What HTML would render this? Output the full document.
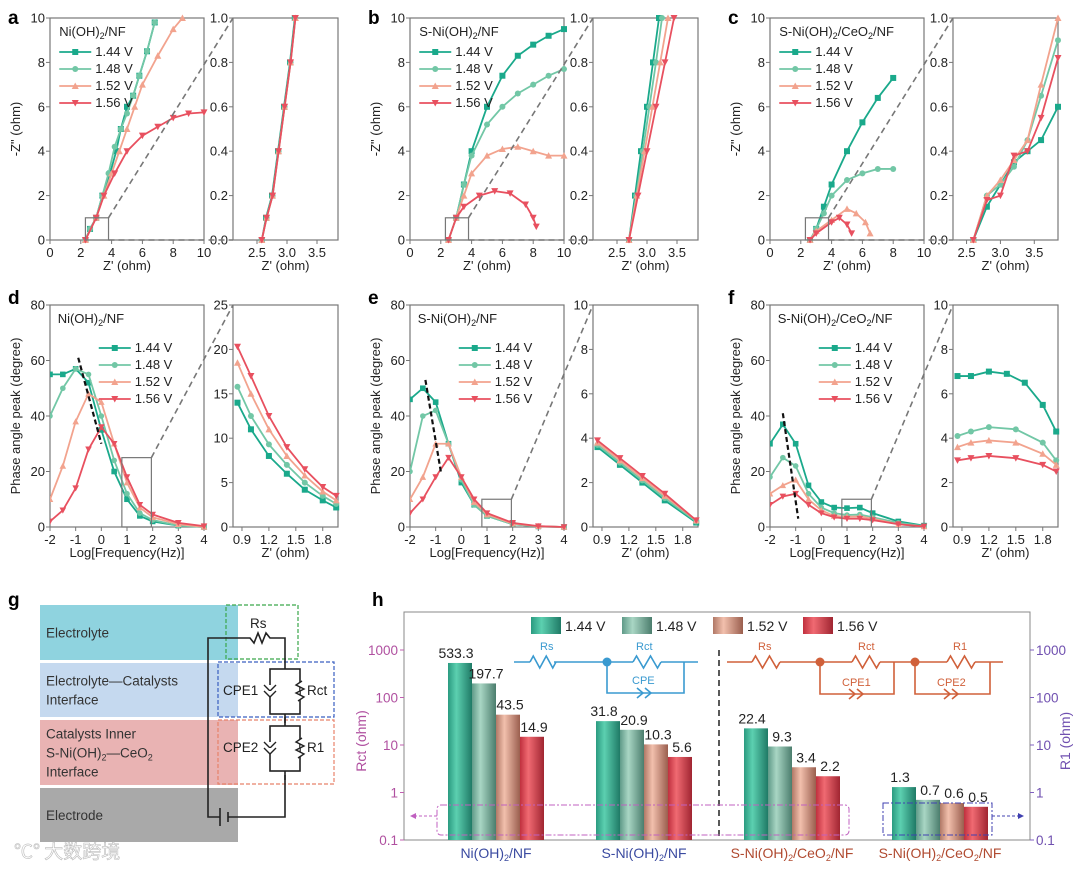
<!DOCTYPE html>
<html><head><meta charset="utf-8">
<style>
body{margin:0;background:#fff;}
svg{display:block;font-family:"Liberation Sans","Noto Sans CJK SC",sans-serif;}
</style></head>
<body>
<svg id="fig" width="1080" height="870" viewBox="0 0 1080 870">
<defs id="defs"></defs>
</svg>
<script>
// ---------- DATA ----------
const seriesNames = ["1.44 V","1.48 V","1.52 V","1.56 V"];
// Nyquist main plots (Z', -Z'')
const aMain = [
 [[2.3,0],[2.6,0.5],[3,1],[3.4,2],[3.9,3],[4.3,4],[4.6,5],[5,6],[5.4,6.5],[5.8,7.4],[6.3,8.5],[6.8,9.8]],
 [[2.3,0],[2.6,0.5],[3,1],[3.4,2],[3.8,3],[4.2,4.2],[4.6,5],[5,5.7],[5.4,6.5],[5.8,7.4],[6.3,8.5],[6.8,9.8]],
 [[2.3,0],[3,1],[3.5,2],[4,3],[4.5,4],[5,5],[5.5,6],[6,7],[7,8.3],[8,9.5],[8.6,10]],
 [[2.3,0],[3,1],[3.5,2],[4.2,3],[5,4],[6,4.7],[7,5.1],[8,5.5],[9,5.7],[10,5.75]]];
const aInset = [
 [[2.58,0],[2.65,0.1],[2.75,0.2],[2.85,0.4],[2.95,0.6],[3.05,0.8],[3.13,1.0]],
 [[2.58,0],[2.66,0.1],[2.76,0.2],[2.86,0.4],[2.96,0.6],[3.06,0.8],[3.14,1.0]],
 [[2.58,0],[2.66,0.1],[2.76,0.2],[2.86,0.4],[2.96,0.6],[3.06,0.8],[3.14,1.0]],
 [[2.58,0],[2.66,0.1],[2.76,0.2],[2.86,0.4],[2.96,0.6],[3.06,0.8],[3.14,1.0]]];
const bMain = [
 [[2.5,0],[3,1],[3.5,2.5],[4,4],[5,6],[6,7.4],[7,8.3],[8,8.8],[9,9.2],[10,9.5]],
 [[2.5,0],[3,1],[3.5,2.5],[4,3.8],[5,5.2],[6,6],[7,6.6],[8,7],[9,7.4],[10,7.7]],
 [[2.5,0],[3,1],[3.5,2],[4,3],[5,3.8],[6,4.1],[7,4.2],[8,4],[9,3.8],[10,3.8]],
 [[2.5,0],[3,1],[3.5,1.5],[4.5,2],[5.5,2.2],[6.5,2.1],[7.5,1.6],[8,1],[8.2,0.6]]];
const bInset = [
 [[2.7,0],[2.8,0.2],[2.9,0.4],[3.0,0.6],[3.1,0.8],[3.2,1.0]],
 [[2.7,0],[2.82,0.2],[2.93,0.4],[3.04,0.6],[3.15,0.8],[3.25,1.0]],
 [[2.7,0],[2.83,0.2],[2.96,0.4],[3.09,0.6],[3.22,0.8],[3.35,1.0]],
 [[2.7,0],[2.85,0.2],[3.0,0.4],[3.15,0.6],[3.3,0.8],[3.45,1.0]]];
const cMain = [
 [[2.6,0],[3,0.5],[3.5,1.5],[4,2.5],[5,4],[6,5.3],[7,6.4],[8,7.3]],
 [[2.6,0],[3,0.5],[3.5,1.2],[4,2],[5,2.7],[6,3],[7,3.2],[8,3.2]],
 [[2.6,0],[3,0.4],[4,0.9],[5,1.4],[5.6,1.2],[6.2,0.8],[6.5,0.3]],
 [[2.6,0],[3,0.3],[4,0.8],[4.5,1],[5,0.7],[5.3,0.3]]];
const cInset = [
 [[2.6,0],[2.8,0.15],[3.0,0.25],[3.2,0.35],[3.4,0.4],[3.6,0.45],[3.85,0.6]],
 [[2.6,0],[2.8,0.2],[3.0,0.25],[3.2,0.33],[3.4,0.45],[3.6,0.65],[3.85,0.9]],
 [[2.6,0],[2.8,0.2],[3.0,0.27],[3.2,0.36],[3.4,0.45],[3.6,0.7],[3.85,1.0]],
 [[2.6,0],[2.8,0.18],[3.0,0.2],[3.2,0.38],[3.4,0.4],[3.6,0.55],[3.85,0.82]]];
// Bode phase plots (log f, phase)
const dMain = [
 [[-2,55],[-1.5,55],[-1,57],[-0.5,52],[0,35],[0.5,20],[1,10],[1.5,4],[2,2],[3,0.5],[4,0]],
 [[-2,40],[-1.5,50],[-1,57],[-0.5,55],[0,40],[0.5,24],[1,12],[1.5,5],[2,2.5],[3,0.5],[4,0]],
 [[-2,10],[-1.5,22],[-1,38],[-0.5,48],[0,45],[0.5,30],[1,16],[1.5,7],[2,3.5],[3,1],[4,0]],
 [[-2,2],[-1.5,6],[-1,14],[-0.5,28],[0,36],[0.5,30],[1,18],[1.5,8],[2,4.5],[3,1.5],[4,0.3]]];
const dInset = [
 [[0.85,14],[1,11],[1.2,8],[1.4,6],[1.6,4.2],[1.8,3],[1.95,2.2]],
 [[0.85,15.8],[1,12.5],[1.2,9.3],[1.4,7],[1.6,5],[1.8,3.5],[1.95,2.6]],
 [[0.85,18.5],[1,15],[1.2,11],[1.4,8],[1.6,5.8],[1.8,4],[1.95,3]],
 [[0.85,20.3],[1,17],[1.2,12.5],[1.4,9],[1.6,6.5],[1.8,4.5],[1.95,3.5]]];
const eMain = [
 [[-2,46],[-1.5,50],[-1,45],[-0.5,30],[0,16],[0.5,8],[1,4],[2,1],[3,0.2],[4,0]],
 [[-2,20],[-1.5,40],[-1,42],[-0.5,30],[0,17],[0.5,8],[1,4],[2,1],[3,0.2],[4,0]],
 [[-2,10],[-1.5,18],[-1,30],[-0.5,30],[0,18],[0.5,9],[1,4.5],[2,1.2],[3,0.3],[4,0]],
 [[-2,5],[-1.5,10],[-1,18],[-0.5,25],[0,18],[0.5,10],[1,5],[2,1.5],[3,0.3],[4,0]]];
const eInset = [
 [[0.85,3.6],[1.1,2.8],[1.35,2.0],[1.6,1.2],[1.95,0.2]],
 [[0.85,3.7],[1.1,2.9],[1.35,2.1],[1.6,1.3],[1.95,0.25]],
 [[0.85,3.8],[1.1,3.0],[1.35,2.2],[1.6,1.4],[1.95,0.3]],
 [[0.85,3.9],[1.1,3.1],[1.35,2.3],[1.6,1.5],[1.95,0.3]]];
const fMain = [
 [[-2,30],[-1.5,37],[-1,30],[-0.5,15],[0,9],[0.5,7],[1,6.8],[1.5,7],[2,5],[3,2],[4,0.5]],
 [[-2,18],[-1.5,25],[-1,22],[-0.5,12],[0,7],[0.5,5],[1,4.3],[1.5,4.5],[2,3.5],[3,1.5],[4,0.3]],
 [[-2,12],[-1.5,15],[-1,17],[-0.5,10],[0,6],[0.5,4],[1,3.7],[1.5,3.8],[2,3],[3,1],[4,0.2]],
 [[-2,8],[-1.5,11],[-1,12],[-0.5,8],[0,5],[0.5,3.5],[1,3],[1.5,3],[2,2.5],[3,1],[4,0.2]]];
const fInset = [
 [[0.85,6.8],[1.0,6.8],[1.2,7.0],[1.4,6.9],[1.6,6.5],[1.8,5.5],[1.95,4.3]],
 [[0.85,4.1],[1.0,4.3],[1.2,4.5],[1.5,4.4],[1.8,3.8],[1.95,3.0]],
 [[0.85,3.6],[1.0,3.8],[1.2,3.9],[1.5,3.8],[1.8,3.3],[1.95,2.8]],
 [[0.85,3.0],[1.0,3.1],[1.2,3.2],[1.5,3.1],[1.8,2.8],[1.95,2.5]]];
// Panel h
const hCategories = ["Ni(OH)2/NF","S-Ni(OH)2/NF","S-Ni(OH)2/CeO2/NF","S-Ni(OH)2/CeO2/NF"];
const hValues = [[533.3,197.7,43.5,14.9],[31.8,20.9,10.3,5.6],[22.4,9.3,3.4,2.2],[1.3,0.7,0.6,0.5]];
const hLabels = [["533.3","197.7","43.5","14.9"],["31.8","20.9","10.3","5.6"],["22.4","9.3","3.4","2.2"],["1.3","0.7","0.6","0.5"]];
const hTicks = [0.1,1,10,100,1000];
const hTickLabels = ["0.1","1","10","100","1000"];

// ---------- helpers ----------
const NS="http://www.w3.org/2000/svg";
const svg=document.getElementById('fig');
const colors=["#1aa98b","#72c7a6","#f2a38e","#e8505f"];
const markers=["square","circle","up","down"];
function el(tag,attrs,parent){const e=document.createElementNS(NS,tag);for(const k in attrs)e.setAttribute(k,attrs[k]);(parent||svg).appendChild(e);return e;}
function txt(x,y,s,attrs,parent){const t=el('text',Object.assign({x:x,y:y,'font-size':13,fill:'#222'},attrs||{}),parent);t.innerHTML=s;return t;}
function marker(g,type,x,y,c,r){
  r=r||3;let m;
  if(type==="square")m=el('rect',{x:x-r,y:y-r,width:2*r,height:2*r,fill:c},g);
  else if(type==="circle")m=el('circle',{cx:x,cy:y,r:r,fill:c},g);
  else if(type==="up")m=el('polygon',{points:`${x},${y-r-0.5} ${x-r-0.5},${y+r} ${x+r+0.5},${y+r}`,fill:c},g);
  else m=el('polygon',{points:`${x},${y+r+0.5} ${x-r-0.5},${y-r} ${x+r+0.5},${y-r}`,fill:c},g);
  
  
}
function axes(name,o){
  const g=el('g',{});
  
  
  const sx=v=>o.x0+(v-o.xmin)/(o.xmax-o.xmin)*(o.x1-o.x0);
  const sy=v=>o.y1-(v-o.ymin)/(o.ymax-o.ymin)*(o.y1-o.y0);
  const fr=el('rect',{x:o.x0,y:o.y0,width:o.x1-o.x0,height:o.y1-o.y0,fill:'none',stroke:'#777','stroke-width':1.2},g);
  
  o.xticks.forEach((t,i)=>{const X=sx(t);el('line',{x1:X,x2:X,y1:o.y1,y2:o.y1+4,stroke:'#777'},g);
    const lb=txt(X,o.y1+17,o.xlabels?o.xlabels[i]:String(t),{'text-anchor':'middle','font-size':13},g);
    });
  o.yticks.forEach((t,i)=>{const Y=sy(t);el('line',{x1:o.x0-4,x2:o.x0,y1:Y,y2:Y,stroke:'#777'},g);
    const lb=txt(o.x0-5,Y+4.5,o.ylabels?o.ylabels[i]:String(t),{'text-anchor':'end','font-size':13},g);
    });
  if(o.xtitle){const t=txt((o.x0+o.x1)/2,o.y1+30,o.xtitle,{'text-anchor':'middle','font-size':13},g);
    }
  if(o.ytitle){const t=txt(0,0,o.ytitle,{'text-anchor':'middle','font-size':13,transform:`translate(${o.x0-30},${(o.y0+o.y1)/2}) rotate(-90)`},g);
    }
  const cid='clip'+name;const cp=el('clipPath',{id:cid},document.getElementById('defs'));
  el('rect',{x:o.x0,y:o.y0-4,width:o.x1-o.x0+4,height:o.y1-o.y0+8},cp);
  const dg=el('g',{'clip-path':`url(#${cid})`},g);
  return {g,dg,sx,sy};
}
function drawSeries(ax,data,msz){
  data.forEach((s,i)=>{
    const sg=el('g',{},ax.dg);
    
    
    el('polyline',{points:s.map(p=>ax.sx(p[0])+','+ax.sy(p[1])).join(' '),fill:'none',stroke:colors[i],'stroke-width':1.8},sg);
    s.forEach(p=>marker(sg,markers[i],ax.sx(p[0]),ax.sy(p[1]),colors[i],msz||3));
  });
}
function legend(x,y,title,gap){
  const g=el('g',{});
  
  if(title){const t=txt(x-2,y,title,{'font-size':13},g);y+=20;}
  seriesNames.forEach((n,i)=>{
    const e=el('g',{},g);
    
    el('line',{x1:x,x2:x+32,y1:y-4,y2:y-4,stroke:colors[i],'stroke-width':1.8},e);
    marker(e,markers[i],x+16,y-4,colors[i],3);
    txt(x+36,y,n,{'font-size':13},e);
    y+=gap||17;
  });
}
function dash(x1,y1,x2,y2){const l=el('line',{x1,y1,x2,y2,stroke:'#777','stroke-width':1.6,'stroke-dasharray':'6,4'});}
function panelLetter(x,y,s){const t=txt(x,y,s,{'font-size':19,'font-weight':'bold',fill:'#000'});}

// ---------- Row 1 ----------
const row1=[["a",aMain,aInset,"Ni(OH)<tspan font-size='9' dy='3'>2</tspan><tspan dy='-3'>/NF</tspan>",[2.1,3.85]],
  ["b",bMain,bInset,"S-Ni(OH)<tspan font-size='9' dy='3'>2</tspan><tspan dy='-3'>/NF</tspan>",[2.1,3.85]],
  ["c",cMain,cInset,"S-Ni(OH)<tspan font-size='9' dy='3'>2</tspan><tspan dy='-3'>/CeO</tspan><tspan font-size='9' dy='3'>2</tspan><tspan dy='-3'>/NF</tspan>",[2.3,3.85]]];
row1.forEach((r,k)=>{
  const off=k*360;
  panelLetter(8+off,24,r[0]);
  const m=axes('nyquist-'+r[0],{x0:50+off,x1:204+off,y0:18,y1:240,xmin:0,xmax:10,ymin:0,ymax:10,xticks:[0,2,4,6,8,10],yticks:[0,2,4,6,8,10],xtitle:"Z' (ohm)",ytitle:'-Z" (ohm)'});
  drawSeries(m,r[1],3);
  el('rect',{x:m.sx(2.3),y:m.sy(1),width:m.sx(3.8)-m.sx(2.3),height:m.sy(0)-m.sy(1),fill:'none',stroke:'#777','stroke-width':1.2});
  const ins=axes('nyquist-inset-'+r[0],{x0:233+off,x1:338+off,y0:18,y1:240,xmin:r[4][0],xmax:r[4][1],ymin:0,ymax:1,xticks:[2.5,3.0,3.5],xlabels:["2.5","3.0","3.5"],yticks:[0,0.2,0.4,0.6,0.8,1.0],ylabels:["0.0","0.2","0.4","0.6","0.8","1.0"],xtitle:"Z' (ohm)"});
  drawSeries(ins,r[2],3);
  dash(m.sx(3.8),m.sy(1),233+off,18);
  dash(m.sx(3.8),240,233+off,240);
  txt(m.sx(0.6),36,r[3],{'font-size':13});
  legend(m.sx(0.6),56,null,17);
});
// ---------- Row 2 ----------
const row2=[["d",dMain,dInset,"Ni(OH)<tspan font-size='9' dy='3'>2</tspan><tspan dy='-3'>/NF</tspan>",80,25,[0,5,10,15,20,25],[0.8,1.95,25]],
  ["e",eMain,eInset,"S-Ni(OH)<tspan font-size='9' dy='3'>2</tspan><tspan dy='-3'>/NF</tspan>",80,10,[0,2,4,6,8,10],[0.8,1.95,10]],
  ["f",fMain,fInset,"S-Ni(OH)<tspan font-size='9' dy='3'>2</tspan><tspan dy='-3'>/CeO</tspan><tspan font-size='9' dy='3'>2</tspan><tspan dy='-3'>/NF</tspan>",80,10,[0,2,4,6,8,10],[0.8,1.95,10]]];
const arrowPts=[[[-0.9,61],[0,30]],[[-1.4,53],[-0.8,20]],[[-1.5,41],[-0.9,3]]];
row2.forEach((r,k)=>{
  const off=k*360;
  panelLetter(8+off,304,r[0]);
  const m=axes('bode-'+r[0],{x0:50+off,x1:204+off,y0:305,y1:527,xmin:-2,xmax:4,ymin:0,ymax:80,xticks:[-2,-1,0,1,2,3,4],yticks:[0,20,40,60,80],xtitle:"Log[Frequency(Hz)]",ytitle:'Phase angle peak (degree)'});
  drawSeries(m,r[1],2.8);
  const a=arrowPts[k];
  const ar=el('line',{x1:m.sx(a[0][0]),y1:m.sy(a[0][1]),x2:m.sx(a[1][0]),y2:m.sy(a[1][1]),stroke:'#111','stroke-width':2.2,'stroke-dasharray':'5,3'});
  
  el('rect',{x:m.sx(r[7][0]),y:m.sy(r[7][2]),width:m.sx(r[7][1])-m.sx(r[7][0]),height:527-m.sy(r[7][2]),fill:'none',stroke:'#777','stroke-width':1.2});
  const ins=axes('bode-inset-'+r[0],{x0:233+off,x1:338+off,y0:305,y1:527,xmin:0.8,xmax:1.97,ymin:0,ymax:r[5],xticks:[0.9,1.2,1.5,1.8],yticks:r[6],xtitle:"Z' (ohm)"});
  drawSeries(ins,r[2],3);
  dash(m.sx(r[7][1]),m.sy(r[7][2]),233+off,305);
  txt(m.sx(-1.7),323,r[3],{'font-size':13});
  legend(m.sx(-0.1),352,null,17);
});
// ---------- Panel g ----------
(function(){
  panelLetter(8,606,"g");
  const g=el('g',{});
  const bands=[[605,55,'#8fd3df',['Electrolyte'],'electrolyte-layer'],[663,54,'#c5d9ef',['Electrolyte—Catalysts','Interface'],'interface-layer'],[720,65,'#e9b3b3',['Catalysts  Inner','S-Ni(OH)<tspan font-size="9" dy="3">2</tspan><tspan dy="-3">—CeO</tspan><tspan font-size="9" dy="3">2</tspan>','Interface'],'inner-layer'],[788,54,'#a9a9a9',['Electrode'],'electrode-layer']];
  bands.forEach(b=>{const r=el('rect',{x:40,y:b[0],width:198,height:b[1],fill:b[2]},g);
    const n=b[3].length;b[3].forEach((s,i)=>txt(46,b[0]+b[1]/2+5+(i-(n-1)/2)*19,s,{'font-size':13.5,fill:'#333'},g));});
  el('rect',{x:226,y:605,width:72,height:54,fill:'none',stroke:'#3aa64a','stroke-dasharray':'4,2','stroke-width':1.2},g);
  el('rect',{x:218,y:662,width:116,height:55,fill:'none',stroke:'#3a5fc0','stroke-dasharray':'4,2','stroke-width':1.2},g);
  el('rect',{x:218,y:720,width:116,height:64,fill:'none',stroke:'#e8826a','stroke-dasharray':'4,2','stroke-width':1.2},g);
  const w={stroke:'#222','stroke-width':1.6,fill:'none'};
  el('polyline',Object.assign({points:'285,660 285,638 270,638 266,633 262,643 258,633 254,643 250,638 208,638 208,817 220,817'},w),g);
  el('line',Object.assign({x1:220,y1:808,x2:220,y2:826},w),g);
  el('line',Object.assign({x1:228,y1:812,x2:228,y2:822},w),g);
  el('polyline',Object.assign({points:'228,817 285,817 785,817'.split(' ').slice(0,2).join(' ')+' 285,775'},w),g);
  [[665,'CPE1','Rct'],[722,'CPE2','R1']].forEach(c=>{
    const y=c[0]+4;
    el('rect',Object.assign({x:270,y:y,width:30,height:45},w),g);
    el('line',Object.assign({x1:285,y1:y-9,x2:285,y2:y},w),g);
    el('line',Object.assign({x1:285,y1:y+45,x2:285,y2:y+54},w),g);
    el('polyline',{points:`302,${y+12} 296,${y+16} 304,${y+20} 296,${y+24} 304,${y+28} 298,${y+32}`,fill:'#fff',stroke:'#222','stroke-width':1.4},g);
    el('polyline',{points:`264,${y+16} 270,${y+22} 276,${y+16} M0 0`,fill:'#fff',stroke:'#222','stroke-width':1.4},g);
    el('polyline',{points:`264,${y+22} 270,${y+28} 276,${y+22}`,fill:'#fff',stroke:'#222','stroke-width':1.4},g);
    txt(223,y+26,c[1],{'font-size':13.5},g);
    txt(307,y+26,c[2],{'font-size':13.5},g);
  });
  txt(250,628,'Rs',{'font-size':13.5},g);
  const wm=txt(14,858,'℃° 大数跨境',{'font-size':19,fill:'#fff',stroke:'#bbb','stroke-width':0.6,'font-family':'"Noto Sans CJK SC",sans-serif'});
  
})();
// ---------- Panel h ----------
(function(){
  panelLetter(372,606,"h");
  const x0=404,x1=1030,yTop=612,yBot=840;
  const lmin=-1,dec=47.5; // 0.1 at yBot
  const sy=v=>yBot-(Math.log10(v)-lmin)*dec;
  const defs=document.getElementById('defs');
  const gcol=[["#2a9a80","#5cd0b0","#1f7a66"],["#5f9a88","#a9d6c4","#4b7d6d"],["#b07866","#f2c0ad","#9a5e4e"],["#c0303e","#f06a72","#a02531"]];
  gcol.forEach((c,i)=>{const lg=el('linearGradient',{id:'bg'+i,x1:0,x2:1,y1:0,y2:0},defs);
    el('stop',{offset:'0',"stop-color":c[0]},lg);el('stop',{offset:'0.35',"stop-color":c[1]},lg);el('stop',{offset:'1',"stop-color":c[2]},lg);});
  const fr=el('rect',{x:x0,y:yTop,width:x1-x0,height:yBot-yTop,fill:'none',stroke:'#888','stroke-width':1});
  
  hTicks.forEach((t,i)=>{const Y=sy(t);
    el('line',{x1:x0,x2:x0-4,y1:Y,y2:Y,stroke:'#c060b0'});el('line',{x1:x1,x2:x1+4,y1:Y,y2:Y,stroke:'#8060c0'});
    const l=txt(x0-6,Y+5,hTickLabels[i],{'text-anchor':'end','font-size':13.5,fill:'#b050a0'});
    const r=txt(x1+6,Y+5,hTickLabels[i],{'font-size':13.5,fill:'#7050b0'});});
  let t=txt(0,0,'Rct (ohm)',{'text-anchor':'middle','font-size':14,fill:'#b050a0',transform:`translate(${x0-38},${(yTop+yBot)/2+15}) rotate(-90)`});
  t=txt(0,0,'R1 (ohm)',{'text-anchor':'middle','font-size':14,fill:'#7050b0',transform:`translate(${x1+40},${(yTop+yBot)/2+15}) rotate(-90)`});
  const groupX=[448,596,744,892],bw=24;
  hValues.forEach((grp,gi)=>{
    grp.forEach((v,i)=>{
      const X=groupX[gi]+i*bw,Y=sy(v);
      const b=el('rect',{x:X,y:Y,width:bw,height:yBot-Y,fill:`url(#bg${i})`});
      
      const l=txt(X+bw/2+ (i===0?-4:2),Y-5,hLabels[gi][i],{'text-anchor':'middle','font-size':14,fill:'#222'});
      
    });
    const parts=hCategories[gi].split('2');
    const lab=txt(groupX[gi]+2*bw,858,'',{'text-anchor':'middle','font-size':14,fill:gi<2?'#3a4aa0':'#b04a30'});
    lab.innerHTML=hCategories[gi].replace(/2/g,"<tspan font-size='9' dy='3'>2</tspan><tspan dy='-3'>")+ "</tspan>".repeat(parts.length-1);
    lab.innerHTML=parts.map((p,i)=>i===0?p:"<tspan font-size='9' dy='3'>2</tspan><tspan dy='-3'>"+p+"</tspan>").join('');
    
  });
  const vl=el('line',{x1:719,x2:719,y1:650,y2:840,stroke:'#222','stroke-width':1.5,'stroke-dasharray':'6,4'});
  // dashed boxes
  el('rect',{x:437,y:805,width:412,height:30,fill:'none',stroke:'#c060c0','stroke-dasharray':'6,2,2,2',rx:4});
  el('line',{x1:437,x2:413,y1:816,y2:816,stroke:'#c060c0','stroke-dasharray':'3,2'});
  el('polygon',{points:'410,816 416,813 416,819',fill:'#c060c0'});
  el('rect',{x:883,y:803,width:109,height:32,fill:'none',stroke:'#4040b0','stroke-dasharray':'6,2,2,2'});
  el('line',{x1:992,x2:1020,y1:816,y2:816,stroke:'#4040b0','stroke-dasharray':'3,2'});
  el('polygon',{points:'1024,816 1018,813 1018,819',fill:'#4040b0'});
  // legend
  const lg=el('g',{});
  [560,651,742,832].forEach((x,i)=>{el('rect',{x:x-29,y:617,width:30,height:17,fill:`url(#bg${i})`},lg);txt(x+5,631,seriesNames[i],{'font-size':14},lg);});
  // circuit diagrams
  const blue='#3a9ad0',or='#d0603a';
  function zig(x,y,len,c){let p=[];for(let i=0;i<=8;i++){p.push((x+i*len/8)+','+(y+(i%2?(i%4==1?-6:6):0)));}el('polyline',{points:p.join(' '),fill:'none',stroke:c,'stroke-width':1.6});}
  function cap(x,y,c){el('polyline',{points:`${x-6},${y-5} ${x},${y} ${x-6},${y+5}`,fill:'none',stroke:c,'stroke-width':1.6});el('polyline',{points:`${x+2},${y-5} ${x+8},${y} ${x+2},${y+5}`,fill:'none',stroke:c,'stroke-width':1.6});}
  el('line',{x1:514,x2:698,y1:662,y2:662,stroke:blue,'stroke-width':1.6});
  el('rect',{x:530,y:652,width:24,height:20,fill:'#fff'});zig(530,662,26,blue);
  el('rect',{x:633,y:652,width:28,height:20,fill:'#fff'});zig(633,662,28,blue);
  el('circle',{cx:607,cy:662,r:4.5,fill:blue});
  el('polyline',{points:'607,662 607,693 684,693 684,662',fill:'none',stroke:blue,'stroke-width':1.6});cap(643,693,blue);
  txt(540,650,'Rs',{'font-size':11,fill:blue});txt(636,650,'Rct',{'font-size':11,fill:blue});txt(632,684,'CPE',{'font-size':11,fill:blue});
  el('line',{x1:727,x2:1003,y1:662,y2:662,stroke:or,'stroke-width':1.6});
  [[752,'Rs'],[852,'Rct'],[947,'R1']].forEach(z=>{el('rect',{x:z[0],y:652,width:28,height:20,fill:'#fff'});zig(z[0],662,28,or);txt(z[0]+6,650,z[1],{'font-size':11,fill:or});});
  [[820,894,'CPE1'],[915,990,'CPE2']].forEach(z=>{el('circle',{cx:z[0],cy:662,r:4.5,fill:or});el('polyline',{points:`${z[0]},662 ${z[0]},694 ${z[1]},694 ${z[1]},662`,fill:'none',stroke:or,'stroke-width':1.6});cap(z[0]+35,694,or);txt(z[0]+22,686,z[2],{'font-size':11,fill:or});});
})();
</script>
</body></html>
